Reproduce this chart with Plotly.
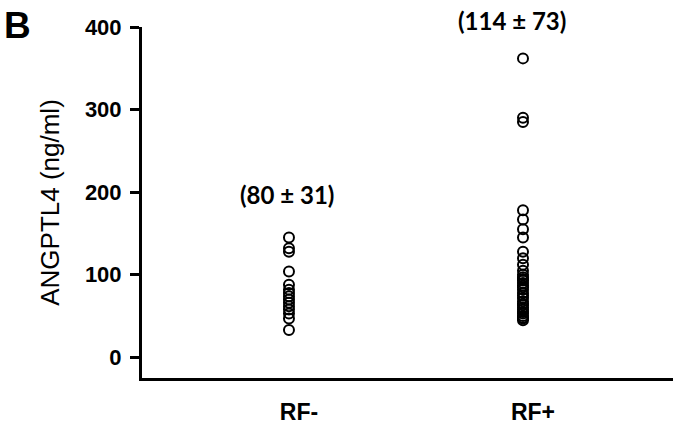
import plotly.graph_objects as go

categories = ["RF-", "RF+"]
rf_neg = [145, 132, 128, 104, 88, 82, 78, 74, 70, 66, 62, 58, 53, 47, 33]
rf_pos = [362, 290, 285, 178, 167, 155, 145, 128, 120, 112, 105, 100, 97, 95, 93, 90,
          87, 85, 82, 78, 75, 72, 68, 65, 63, 60, 58, 55, 53, 50, 48, 47, 45]
summary_labels = ["(80 ± 31)", "(114 ± 73)"]
summary_y = [197, 400]
y_ticks = [0, 100, 200, 300, 400]

fig = go.Figure()
for i, vals in enumerate([rf_neg, rf_pos]):
    fig.add_trace(go.Scatter(
        x=[i] * len(vals), y=vals, mode="markers",
        marker=dict(symbol="circle-open", size=10, color="black", line=dict(width=2, color="black")),
        showlegend=False, cliponaxis=False))

for i, (lab, yv) in enumerate(zip(summary_labels, summary_y)):
    fig.add_annotation(x=i, y=yv, text=f"<b>{lab}</b>", showarrow=False,
                       yanchor="middle", xshift=-2 - 9 * i, yshift=7 * i,
                       font=dict(family="Lato", size=24, color="black"))

fig.add_annotation(xref="paper", yref="paper", x=-0.264, y=1.077, xanchor="left", yanchor="top",
                   yshift=-3, text="<b>B</b>", showarrow=False,
                   font=dict(family="Liberation Sans", size=37, color="black"))

fig.update_layout(
    width=673, height=428,
    margin=dict(l=142, r=0, t=27, b=50),
    plot_bgcolor="white", paper_bgcolor="white",
    font=dict(family="Liberation Sans", color="black"),
)
fig.update_xaxes(range=[-0.628, 1.641], tickvals=[0, 1],
                 ticktext=[f"<b>{c}</b>" for c in categories],
                 showline=True, linecolor="black", linewidth=3, ticks="",
                 showgrid=False, zeroline=False, ticklabelstandoff=11, automargin=False,
                 ticklabelshift=10,
                 tickfont=dict(size=23, family="Liberation Sans"))
fig.update_yaxes(range=[-25, 400], tickvals=y_ticks,
                 ticktext=[f"<b>{t}</b>" for t in y_ticks],
                 showline=True, linecolor="black", linewidth=3,
                 ticks="outside", ticklen=9, tickwidth=3, tickcolor="black",
                 showgrid=False, zeroline=False, ticklabelstandoff=4, automargin=False,
                 tickfont=dict(size=22, family="Liberation Sans"),
                 title=dict(text="ANGPTL4 (ng/ml)", standoff=18,
                            font=dict(size=26, family="Liberation Sans")))

fig.write_html("out.html", config={"displayModeBar": False},
               post_script="document.body.style.margin='0';")
